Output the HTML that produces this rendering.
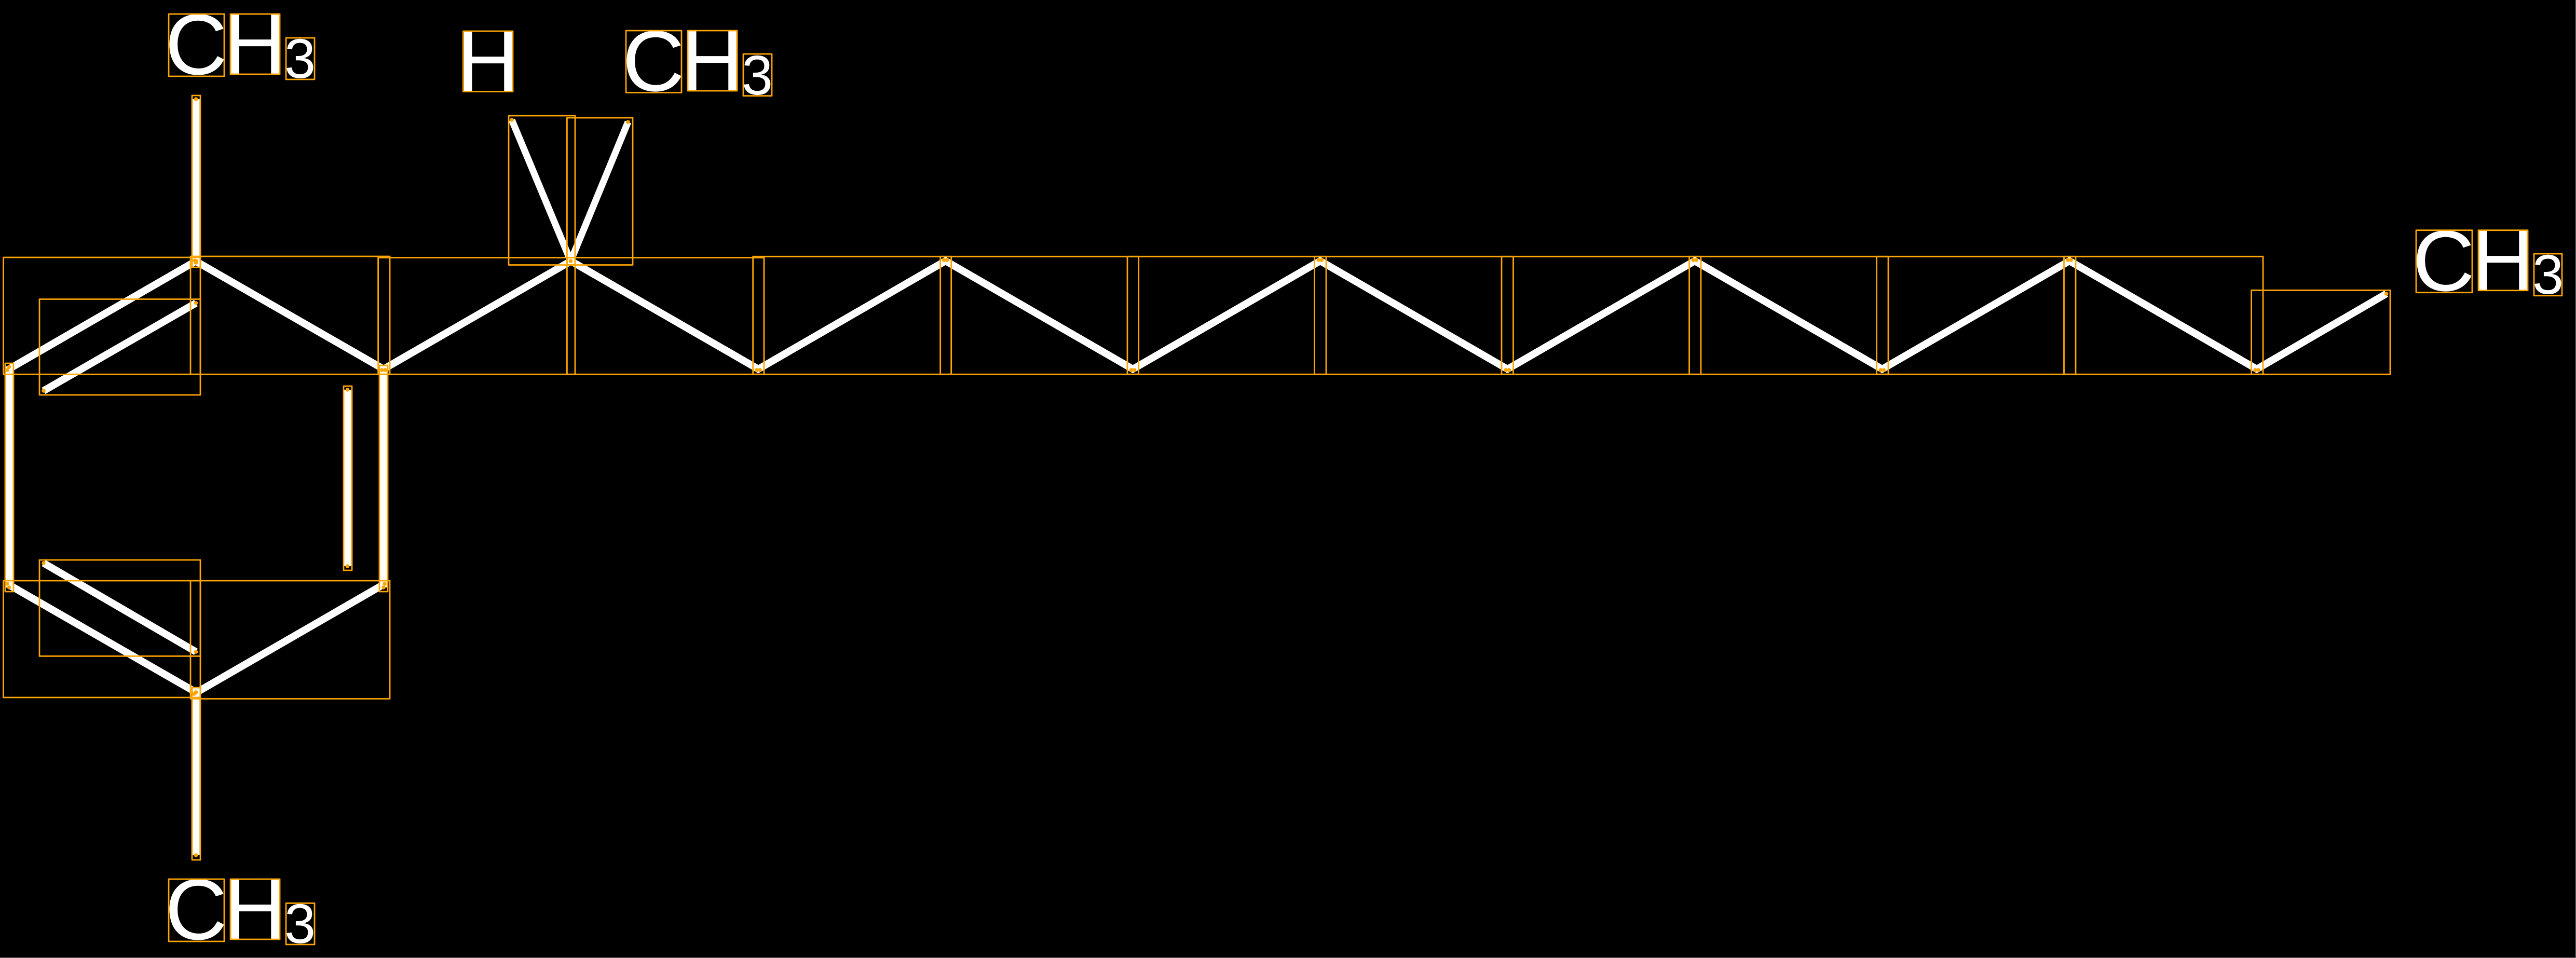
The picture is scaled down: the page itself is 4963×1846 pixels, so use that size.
<!DOCTYPE html>
<html>
<head>
<meta charset="utf-8">
<style>
html,body{margin:0;padding:0;background:#808080;width:4963px;height:1846px;overflow:hidden}
svg{display:block}
text{font-family:"Liberation Sans",sans-serif;fill:#fff}
.l{font-size:166px}
.s{font-size:108px}
</style>
</head>
<body>
<svg xmlns="http://www.w3.org/2000/svg" width="4963" height="1846" viewBox="0 0 4963 1846">
<rect x="0" y="0" width="4962" height="1845" fill="#000"/>
<g stroke="#fff" stroke-width="14" fill="none" stroke-linecap="butt">
<line x1="377.5" y1="191" x2="377.5" y2="506"/>
<line x1="377.5" y1="503" x2="14" y2="713"/>
<line x1="84" y1="753" x2="377.5" y2="584"/>
<line x1="375" y1="502" x2="742" y2="713"/>
<line x1="18" y1="707" x2="18" y2="1132"/>
<line x1="739" y1="711" x2="739" y2="1132"/>
<line x1="669.5" y1="751" x2="669.5" y2="1091"/>
<line x1="14" y1="1125" x2="377.5" y2="1334"/>
<line x1="741" y1="1125" x2="374" y2="1337"/>
<line x1="84" y1="1085" x2="377.5" y2="1256"/>
<line x1="377.5" y1="1333" x2="377.5" y2="1648"/>
<line x1="736" y1="713" x2="1100" y2="503"/>
<line x1="1100" y1="503" x2="1464" y2="713"/>
<line x1="1099.5" y1="503" x2="986" y2="231" stroke-width="13"/>
<line x1="1099.5" y1="503" x2="1210" y2="235" stroke-width="13"/>
<line x1="1458" y1="713" x2="1824.7" y2="501"/>
<line x1="1818.7" y1="501" x2="2185.6" y2="713"/>
<line x1="2179.6" y1="713" x2="2546.5" y2="501"/>
<line x1="2540.5" y1="501" x2="2907.4" y2="713"/>
<line x1="2901.4" y1="713" x2="3268.3" y2="501"/>
<line x1="3262.3" y1="501" x2="3629.2" y2="713"/>
<line x1="3623.2" y1="713" x2="3990.1" y2="501"/>
<line x1="3984.1" y1="501" x2="4351" y2="713"/>
<line x1="4345" y1="713" x2="4597.6" y2="566"/>
</g>
<text class="l" x="318" y="143">C</text><text class="l" x="431.4" y="142">H</text><text class="s" x="548" y="150">3</text>
<text class="l" x="880.4" y="175">H</text>
<text class="l" x="1199" y="175">C</text><text class="l" x="1312.4" y="174">H</text><text class="s" x="1429" y="182">3</text>
<text class="l" x="318" y="1810">C</text><text class="l" x="431.4" y="1809">H</text><text class="s" x="548" y="1817">3</text>
<text class="l" x="4648" y="560">C</text><text class="l" x="4762.4" y="559">H</text><text class="s" x="4879" y="566">3</text>
<g stroke="#ffa500" stroke-width="2.8" fill="none" stroke-linejoin="round">
<rect x="6.5" y="496" width="379.5" height="225.3"/>
<rect x="76" y="576.5" width="310" height="184.5"/>
<rect x="367" y="494" width="384" height="227.3"/>
<rect x="728.6" y="496.5" width="379.4" height="224.8"/>
<rect x="1092.4" y="496.5" width="379.6" height="224.8"/>
<rect x="1450.7" y="494.3" width="382" height="227"/>
<rect x="1811.7" y="494.3" width="382" height="227"/>
<rect x="2172" y="494.3" width="383" height="227"/>
<rect x="2532.5" y="494.3" width="383" height="227"/>
<rect x="2893" y="494.3" width="384" height="227"/>
<rect x="3254.6" y="494.3" width="383.4" height="227"/>
<rect x="3615.6" y="494.3" width="383.4" height="227"/>
<rect x="3976.5" y="494.3" width="383.5" height="227"/>
<rect x="4337.6" y="559.3" width="267.4" height="162"/>
<rect x="980" y="223" width="128" height="287.5"/>
<rect x="1092.4" y="227" width="126.6" height="283.5"/>
<rect x="370" y="184" width="16" height="331"/>
<rect x="10" y="700" width="16" height="440"/>
<rect x="731" y="704" width="16" height="436"/>
<rect x="662" y="744" width="16" height="355"/>
<rect x="370" y="1325" width="16" height="332"/>
<rect x="6.5" y="1119" width="379.5" height="225"/>
<rect x="367" y="1119" width="384" height="227.5"/>
<rect x="76" y="1079" width="310" height="185.4"/>
<rect x="325" y="27" width="107" height="120"/><rect x="444" y="27" width="95" height="116"/><rect x="551" y="73" width="55" height="80"/>
<rect x="892.4" y="60" width="95.6" height="116.5"/>
<rect x="1206" y="59" width="107" height="119.5"/><rect x="1325" y="59" width="95" height="116"/><rect x="1432" y="104" width="55" height="80.7"/>
<rect x="325" y="1694" width="107" height="120"/><rect x="444" y="1694" width="95" height="116"/><rect x="551" y="1740.4" width="55" height="79.6"/>
<rect x="4655" y="443.7" width="108" height="120"/><rect x="4775" y="443.7" width="95" height="116"/><rect x="4882" y="489" width="54" height="80.7"/>
</g>
<g fill="#ffa500">
<circle cx="377.5" cy="191" r="3.8"/><circle cx="377.5" cy="506" r="3.8"/><circle cx="378" cy="503" r="3.8"/><circle cx="375" cy="502" r="3.8"/>
<circle cx="14" cy="713" r="3.8"/><circle cx="17.5" cy="707" r="3.8"/>
<circle cx="84" cy="753" r="3.8"/><circle cx="377.5" cy="584" r="3.8"/>
<circle cx="669.5" cy="751" r="3.8"/><circle cx="669.5" cy="1091" r="3.8"/>
<circle cx="736" cy="713" r="3.8"/><circle cx="742" cy="713" r="3.8"/>
<circle cx="17.5" cy="1132" r="3.8"/><circle cx="14" cy="1125" r="3.8"/>
<circle cx="739" cy="1132" r="3.8"/><circle cx="741" cy="1125" r="3.8"/>
<circle cx="84" cy="1085" r="3.8"/><circle cx="377.5" cy="1256" r="3.8"/>
<circle cx="377.5" cy="1334" r="3.8"/><circle cx="374" cy="1337" r="3.8"/><circle cx="377.5" cy="1648" r="3.8"/>
<circle cx="1099.5" cy="503" r="3.8"/><circle cx="986" cy="231" r="3.8"/><circle cx="1210" cy="235" r="3.8"/>
<circle cx="1458" cy="713" r="3.8"/><circle cx="1464" cy="713" r="3.8"/>
<circle cx="1818.7" cy="501" r="3.8"/><circle cx="1824.7" cy="501" r="3.8"/>
<circle cx="2179.6" cy="713" r="3.8"/><circle cx="2185.6" cy="713" r="3.8"/>
<circle cx="2540.5" cy="501" r="3.8"/><circle cx="2546.5" cy="501" r="3.8"/>
<circle cx="2901.4" cy="713" r="3.8"/><circle cx="2907.4" cy="713" r="3.8"/>
<circle cx="3262.3" cy="501" r="3.8"/><circle cx="3268.3" cy="501" r="3.8"/>
<circle cx="3623.2" cy="713" r="3.8"/><circle cx="3629.2" cy="713" r="3.8"/>
<circle cx="3984.1" cy="501" r="3.8"/><circle cx="3990.1" cy="501" r="3.8"/>
<circle cx="4345" cy="713" r="3.8"/><circle cx="4351" cy="713" r="3.8"/>
<circle cx="4597.6" cy="566" r="3.8"/>
</g>
</svg>
</body>
</html>
